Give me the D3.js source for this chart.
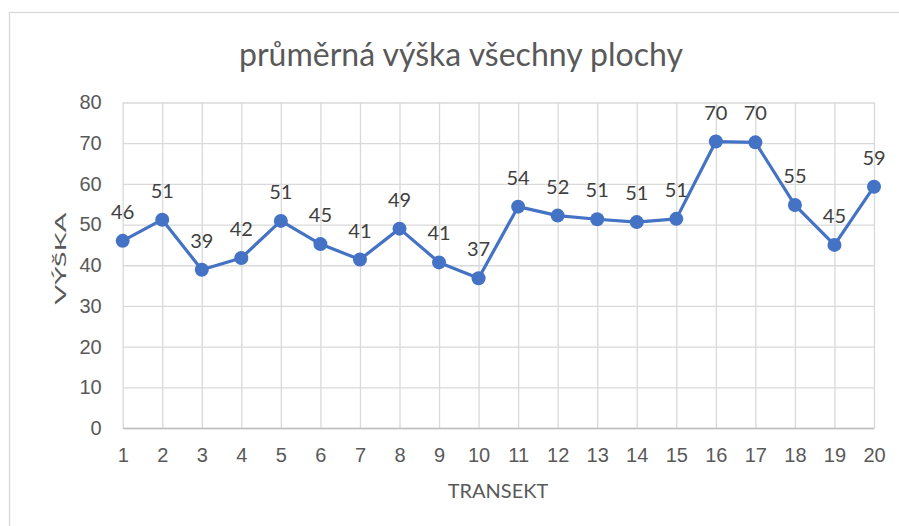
<!DOCTYPE html>
<html>
<head>
<meta charset="utf-8">
<script src="https://cdn.jsdelivr.net/npm/d3@7"></script>
<style>
  body { margin: 0; background: #fff; }
  svg { display: block; font-family: Lato, "Open Sans", sans-serif; }
</style>
</head>
<body>
<svg id="chart"></svg>
<script>
const transects = [1, 2, 3, 4, 5, 6, 7, 8, 9, 10, 11, 12, 13, 14, 15, 16, 17, 18, 19, 20];
const heights = [46.0, 51.2, 38.9, 41.8, 50.9, 45.2, 41.4, 49.0, 40.7, 36.8, 54.4, 52.2, 51.3, 50.6, 51.4, 70.4, 70.2, 54.8, 45.0, 59.3];
const yTicks = [0, 10, 20, 30, 40, 50, 60, 70, 80];

const title = 'průměrná výška všechny plochy';
const xTitle = 'TRANSEKT';
const yTitle = 'VÝŠKA';

const width = 899, height = 526;
const margin = { top: 102.5, right: 25, bottom: 98, left: 122.7 };
const innerW = width - margin.left - margin.right;
const innerH = height - margin.top - margin.bottom;

const svg = d3.select('#chart')
    .attr('width', width)
    .attr('height', height);

// chart frame
svg.append('rect')
    .attr('x', 9.5)
    .attr('y', 12.5)
    .attr('width', width + 10)
    .attr('height', height + 10)
    .attr('fill', 'none')
    .attr('stroke', '#d9d9d9')
    .attr('stroke-width', 1.3);

const g = svg.append('g')
    .attr('transform', `translate(${margin.left},${margin.top})`);

const x = d3.scalePoint()
    .domain(transects)
    .range([0, innerW]);

const y = d3.scaleLinear()
    .domain([0, 80])
    .range([innerH, 0]);

// horizontal grid
g.append('g')
    .call(d3.axisLeft(y).tickValues(yTicks).tickSize(-innerW).tickFormat(''))
    .call(s => s.select('.domain').remove())
    .selectAll('.tick line')
    .attr('stroke', '#d9d9d9')
    .attr('stroke-width', 1.3);

// vertical grid
g.append('g')
    .attr('transform', `translate(0,${innerH})`)
    .call(d3.axisBottom(x).tickSize(-innerH).tickFormat(''))
    .call(s => s.select('.domain').remove())
    .selectAll('.tick line')
    .attr('stroke', '#d9d9d9')
    .attr('stroke-width', 1.3);

// y tick labels
const yAxis = g.append('g')
    .call(d3.axisLeft(y).tickValues(yTicks).tickSize(0).tickPadding(21));
yAxis.select('.domain').remove();
yAxis.selectAll('text')
    .attr('fill', '#595959')
    .style('font-size', '20px');

// x axis with labels
const xAxis = g.append('g')
    .attr('transform', `translate(0,${innerH})`)
    .call(d3.axisBottom(x).tickSize(0).tickPadding(20));
xAxis.select('.domain')
    .attr('stroke', '#bfbfbf')
    .attr('stroke-width', 1.3);
xAxis.selectAll('text')
    .attr('fill', '#595959')
    .style('font-size', '20px');

const data = transects.map((t, i) => ({ t, v: heights[i] }));

const line = d3.line()
    .x(d => x(d.t))
    .y(d => y(d.v));

g.append('path')
    .datum(data)
    .attr('fill', 'none')
    .attr('stroke', '#4472c4')
    .attr('stroke-width', 3.2)
    .attr('stroke-linejoin', 'round')
    .attr('d', line);

g.selectAll('.dot')
    .data(data)
    .enter().append('circle')
    .attr('class', 'dot')
    .attr('cx', d => x(d.t))
    .attr('cy', d => y(d.v))
    .attr('r', 7)
    .attr('fill', '#4472c4');

g.selectAll('.lbl')
    .data(data)
    .enter().append('text')
    .attr('class', 'lbl')
    .attr('x', d => x(d.t))
    .attr('y', d => y(d.v) - 22)
    .attr('text-anchor', 'middle')
    .attr('fill', '#404040')
    .style('font-size', '20px')
    .text(d => Math.round(d.v));

// titles
svg.append('text')
    .attr('x', 461)
    .attr('y', 66)
    .attr('text-anchor', 'middle')
    .attr('fill', '#595959')
    .style('font-size', '32px')
    .text(title);

svg.append('text')
    .attr('x', 498)
    .attr('y', 498)
    .attr('text-anchor', 'middle')
    .attr('fill', '#595959')
    .style('font-size', '20px')
    .text(xTitle);

svg.append('text')
    .attr('transform', 'rotate(-90)')
    .attr('x', -258.5)
    .attr('y', 66)
    .attr('text-anchor', 'middle')
    .attr('fill', '#595959')
    .attr('textLength', 92)
    .attr('lengthAdjust', 'spacingAndGlyphs')
    .style('font-size', '16px')
    .text(yTitle);
</script>
</body>
</html>
